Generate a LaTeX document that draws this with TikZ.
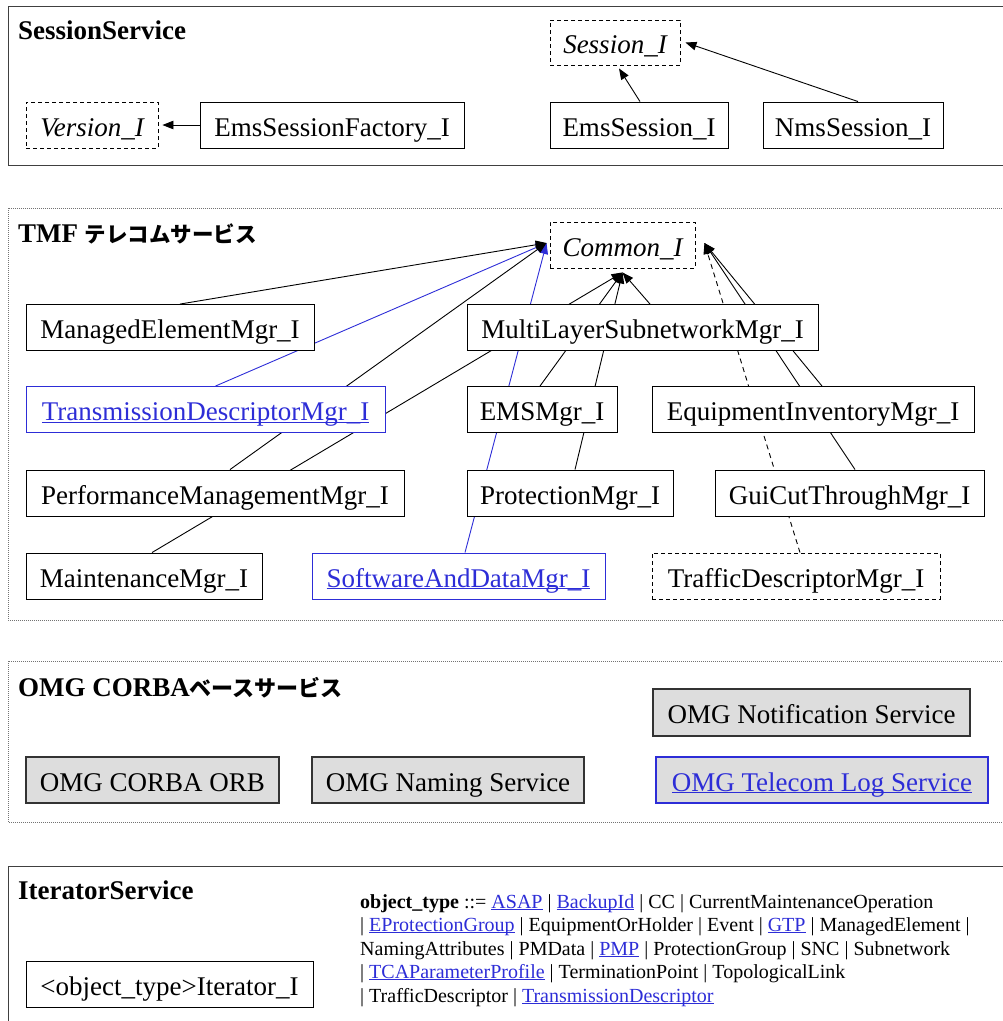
\documentclass[tikz,border=0pt]{standalone}
\usepackage{fontspec}
\setmainfont{Liberation Serif}
\newfontfamily\jpfont{Noto Sans CJK JP}
\usetikzlibrary{arrows.meta}
\definecolor{linkblue}{RGB}{45,45,215}
\definecolor{boxgray}{RGB}{221,221,221}
\newcommand\myul[1]{\setbox0\hbox{#1}\rlap{\rule[-0.09em]{\wd0}{0.045em}}\box0}
\newcommand\lnk[1]{\textcolor{linkblue}{\myul{#1}}}
\pgfdeclarelayer{edges}
\pgfsetlayers{edges,main}
\begin{document}
\begin{tikzpicture}[x=1pt,y=-1pt,
  nbox/.style={draw, line width=0.9pt, fill=white, minimum height=46pt, inner sep=0pt,
     text height=22pt, text depth=0pt, font=\fontsize{27}{30}\selectfont},
  ibox/.style={nbox, dash pattern=on 4pt off 3pt, font=\fontsize{27}{30}\selectfont\itshape},
  dbox/.style={nbox, dash pattern=on 4pt off 3pt},
  bbox/.style={nbox, draw=linkblue, text=linkblue},
  gbox/.style={nbox, fill=boxgray, draw=black!80, line width=1.1pt},
  hdr/.style={inner sep=0pt, font=\fontsize{27}{30}\selectfont\bfseries},
  small/.style={inner sep=0pt, font=\fontsize{20}{23}\selectfont},
  arr/.style={-{Triangle[length=11pt,width=8.5pt]}, line width=0.9pt},
  dotframe/.style={black!55, line width=0.8pt, dash pattern=on 0.8pt off 1.2pt},
  solframe/.style={black!75, line width=1pt}]
\useasboundingbox (0,0) rectangle (1003,1021);
\begin{scope}
\clip (0,0) rectangle (1003,1021);
\draw[solframe] (8,6) rectangle (1030,165);
\draw[dotframe] (8,208) rectangle (1030,620);
\draw[dotframe] (8,661) rectangle (1030,822);
\draw[solframe] (8,866) rectangle (1030,1050);
\end{scope}

% headers
\node[hdr, anchor=base west] (h1) at (18,39) {SessionService};
\node[hdr, anchor=base west] (h2) at (18,242) {TMF {\jpfont\bfseries\fontsize{21.5}{24}\selectfont テレコムサービス}};
\node[hdr, anchor=base west] (h3) at (18,696) {OMG CORBA{\jpfont\bfseries\fontsize{22}{24}\selectfont ベースサービス}};
\node[hdr, anchor=base west] (h4) at (18,899) {IteratorService};

% SessionService
\node[ibox, minimum width=130pt, minimum height=45pt] (sess) at (615,42.5) {Session\_I};
\node[ibox, minimum width=132pt] (ver) at (92,125) {Version\_I};
\node[nbox, minimum width=264pt] (esf) at (332,125) {EmsSessionFactory\_I};
\node[nbox, minimum width=178pt] (ems) at (639,125) {EmsSession\_I};
\node[nbox, minimum width=180pt] (nms) at (853,125) {NmsSession\_I};

% TMF
\node[ibox, minimum width=145pt] (common) at (622.5,245) {Common\_I};
\node[nbox, minimum width=288pt] (me) at (170,327.5) {ManagedElementMgr\_I};
\node[nbox, minimum width=351pt] (ml) at (642.5,327.5) {MultiLayerSubnetworkMgr\_I};
\node[bbox, minimum width=359pt] (tdm) at (205.5,409.5) {\myul{TransmissionDescriptorMgr\_I}};
\node[nbox, minimum width=150pt] (emsm) at (542,409.5) {EMSMgr\_I};
\node[nbox, minimum width=322pt] (ei) at (813,409.5) {EquipmentInventoryMgr\_I};
\node[nbox, minimum width=378pt] (pm) at (215,493) {PerformanceManagementMgr\_I};
\node[nbox, minimum width=206pt] (prot) at (570,493) {ProtectionMgr\_I};
\node[nbox, minimum width=269pt] (gc) at (849.5,493) {GuiCutThroughMgr\_I};
\node[nbox, minimum width=236pt] (maint) at (144,576) {MaintenanceMgr\_I};
\node[bbox, minimum width=293pt] (sd) at (458.5,576) {\myul{SoftwareAndDataMgr\_I}};
\node[dbox, minimum width=288pt] (traf) at (796,576) {TrafficDescriptorMgr\_I};

\coordinate (cL) at ([xshift=-3pt,yshift=2pt]common.west);
\coordinate (cB) at ([yshift=-4pt]common.south);
\coordinate (cR) at ([xshift=9pt,yshift=2pt]common.east);
\coordinate (sB) at ([xshift=4pt,yshift=-3pt]sess.south);
\coordinate (sR) at ([xshift=5pt]sess.east);
\coordinate (vR) at ([xshift=4pt]ver.east);

% OMG
\node[gbox, minimum width=317pt, minimum height=47pt] (notif) at (811.5,712.5) {OMG Notification Service};
\node[gbox, minimum width=253pt] (orb) at (152.5,780) {OMG CORBA ORB};
\node[gbox, minimum width=272pt] (naming) at (448,780) {OMG Naming Service};
\node[gbox, draw=linkblue, text=linkblue, minimum width=332pt] (tlog) at (822,780) {\myul{OMG Telecom Log Service}};

% Iterator
\node[nbox, minimum width=287pt] (iter) at (169.5,984.5) {\textless object\_type\textgreater Iterator\_I};
\node[small, anchor=base west] (t1) at (360,908) {{\bfseries object\_type} ::= \lnk{ASAP} | \lnk{BackupId} | CC | CurrentMaintenanceOperation};
\node[small, anchor=base west] (t2) at (360,931) {| \lnk{EProtectionGroup} | EquipmentOrHolder | Event | \lnk{GTP} | ManagedElement |};
\node[small, anchor=base west] (t3) at (360,955) {NamingAttributes | PMData | \lnk{PMP} | ProtectionGroup | SNC | Subnetwork};
\node[small, anchor=base west] (t4) at (360,978) {| \lnk{TCAParameterProfile} | TerminationPoint | TopologicalLink};
\node[small, anchor=base west] (t5) at (360,1002) {| TrafficDescriptor | \lnk{TransmissionDescriptor}};

\begin{pgfonlayer}{edges}
\draw[arr] (esf.west) -- (vR);
\draw[arr] ([xshift=1pt]ems.north) -- (sB);
\draw[arr] ([xshift=5pt]nms.north) -- (sR);
\draw[arr, linkblue] ([xshift=10pt]tdm.north) -- (cL);
\draw[arr, linkblue] ([xshift=6.5pt]sd.north) -- (cL);
\draw[arr] ([xshift=10pt]me.north) -- (cL);
\draw[arr] ([xshift=15pt]pm.north) -- (cL);
\draw[arr] ([xshift=8pt]maint.north) -- (cB);
\draw[arr] ([xshift=7.5pt]ml.north) -- (cB);
\draw[arr] ([xshift=-2pt]emsm.north) -- (cB);
\draw[arr] ([xshift=5pt]prot.north) -- (cB);
\draw[arr] ([xshift=9pt]ei.north) -- (cR);
\draw[arr] ([xshift=5.5pt]gc.north) -- (cR);
\draw[arr, dash pattern=on 5pt off 4pt] ([xshift=4pt]traf.north) -- (cR);
\end{pgfonlayer}
\end{tikzpicture}
\end{document}
